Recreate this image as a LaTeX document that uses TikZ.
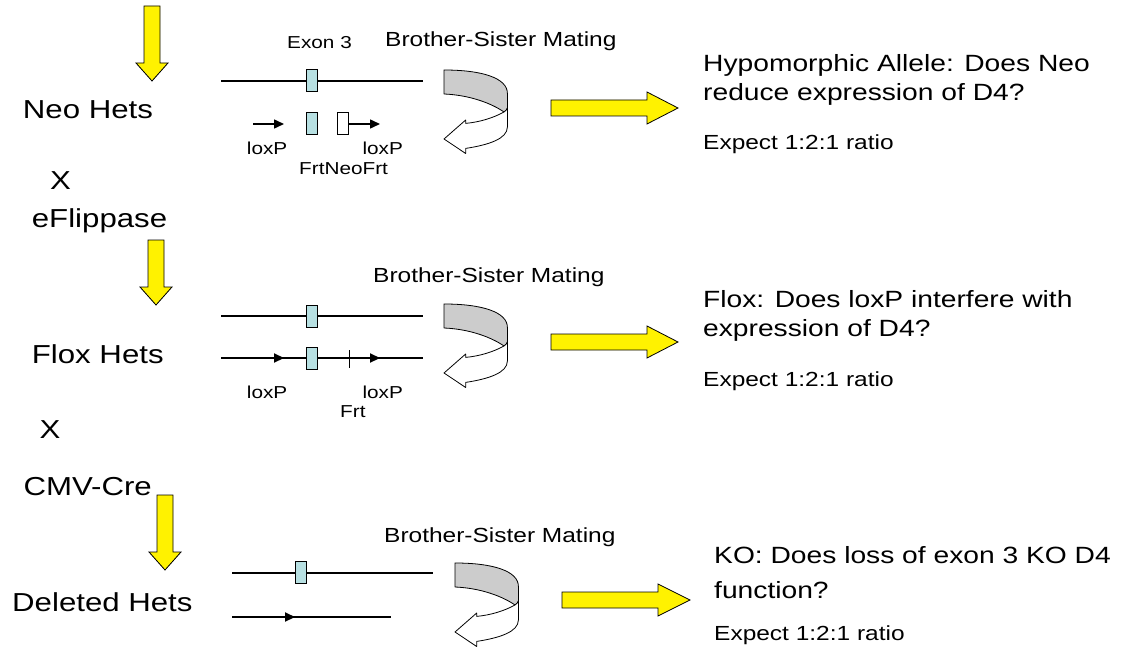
\documentclass[tikz,border=0pt]{standalone}
\usepackage{fontspec}
\setmainfont{Liberation Sans}[FakeStretch=1.2]
\usetikzlibrary{arrows.meta}
\definecolor{exonblue}{RGB}{183,224,226}
\definecolor{foldgray}{RGB}{204,204,204}
\tikzset{
  big/.style={font=\fontsize{26}{30}\selectfont, inner sep=0pt, anchor=base west},
  qtext/.style={font=\fontsize{23.5}{28}\selectfont, inner sep=0pt, anchor=base west},
  mid/.style={font=\fontsize{20.4}{24}\selectfont, inner sep=0pt, anchor=base west},
  small/.style={font=\fontsize{17.3}{20}\selectfont, inner sep=0pt, anchor=base west},
  gene/.style={line width=1.3pt},
  exon/.style={draw, line width=1pt, fill=exonblue, minimum width=11pt, minimum height=22pt, inner sep=0pt},
  neobox/.style={exon, fill=white},
  lox/.style={-{Triangle[length=10pt,width=9pt]}, line width=#1},
  lox/.default=1.5pt,
  yarrow/.style={draw=black, fill=yellow, line width=0.8pt, line join=miter},
  pics/downarr/.style={code={
    \draw[yarrow] (-8,0) -- (8,0) -- (8,#1-18) -- (16,#1-18) -- (0,#1) -- (-16,#1-18) -- (-8,#1-18) -- cycle;}},
  pics/rightarr/.style={code={
    \draw[yarrow] (0,-8) -- (96,-8) -- (96,-16) -- (#1,0) -- (96,16) -- (96,8) -- (0,8) -- cycle;}},
  pics/uturn/.style={code={
    \draw[fill=foldgray, line width=0.8pt, line join=round] (0,0) .. controls (38,0) and (63.4,8) .. (63.4,23.4) -- (63.4,38)
       .. controls (62.8,39.5) and (61.8,41) .. (60,42) .. controls (47,33) and (25,25) .. (0,24) -- cycle;
    \draw[fill=white, line width=0.8pt, line join=round] (63.4,38) .. controls (62.8,39.5) and (61.8,41) .. (60,42)
       .. controls (49,48) and (36,52) .. (21.7,53.4) -- (21.7,50) -- (0,69) -- (21.7,83.5) -- (21.7,78.4)
       .. controls (44,75) and (63.4,69) .. (63.4,57) -- cycle;}},
}
\begin{document}
\begin{tikzpicture}[x=1pt,y=-1pt]
\path[use as bounding box, fill=white] (0,0) rectangle (1124,647);

% left column
\pic at (152,6) {downarr=75};
\pic at (156,240) {downarr=65};
\pic at (165,495) {downarr=75};
\node[big] (neohets) at (22.7,119) {Neo Hets};
\node[big] (x1) at (50,190) {X};
\node[big] (eflip) at (31.7,228) {eFlippase};
\node[big] (floxhets) at (31.7,363) {Flox Hets};
\node[big] (x2) at (39.3,438) {X};
\node[big] (cmv) at (23.3,495) {CMV-Cre};
\node[big] (delhets) at (12,611) {Deleted Hets};

% row 1 gene
\node[small] (exon3) at (287,49) {Exon 3};
\draw[gene] (221,81) -- (423,81);
\node[exon] (e1a) at (311.5,81) {};
\node[exon] (e1b) at (311.5,124) {};
\node[neobox] (neo1) at (343,124) {};
\coordinate (l1s) at (253,124);
\coordinate (l1e) at (284,124);
\coordinate (l2e) at (380,124);
\draw[lox] (l1s) -- (l1e);
\draw[lox] (neo1.east) -- (l2e);
\node[small] (lox1a) at (246.7,155) {loxP};
\node[small] (lox1b) at (362.3,155) {loxP};
\node[small] (fnf) at (299,175) {FrtNeoFrt};
\node[mid] (bsm1) at (385,47) {Brother-Sister Mating};
\pic at (444,70) {uturn};
\pic at (551,108) {rightarr=127};
\node[qtext] (q1a) at (703,72) {Hypomorphic Allele: Does Neo};
\node[qtext] (q1b) at (703,101) {reduce expression of D4?};
\node[mid] (r1) at (703,150) {Expect 1:2:1 ratio};

% row 2 gene
\node[mid] (bsm2) at (373,282) {Brother-Sister Mating};
\draw[gene] (221,316) -- (423,316);
\node[exon] (e2a) at (311.7,316) {};
\draw[gene] (221,358) -- (423,358);
\draw[lox=2.2pt] (253,358) -- (284,358);
\draw[lox=2.2pt] (349,358) -- (380,358);
\node[exon] (e2b) at (311.7,358) {};
\draw[line width=1pt] (349,350) -- (349,368);
\node[small] (lox2a) at (246.7,398) {loxP};
\node[small] (lox2b) at (362.3,398) {loxP};
\node[small] (frt2) at (340,417) {Frt};
\pic at (444,304) {uturn};
\pic at (551,342) {rightarr=127};
\node[qtext] (q2a) at (703,307) {Flox: Does loxP interfere with};
\node[qtext] (q2b) at (703,336) {expression of D4?};
\node[mid] (r2) at (703,386) {Expect 1:2:1 ratio};

% row 3 gene
\node[mid] (bsm3) at (384,542) {Brother-Sister Mating};
\draw[gene] (232,573) -- (433,573);
\node[exon] (e3a) at (301.2,572) {};
\draw[gene] (232,617) -- (391,617);
\draw[lox=2.2pt] (264,617) -- (295,617);
\pic at (455,563) {uturn};
\pic at (562,600) {rightarr=128};
\node[qtext] (q3a) at (714,563) {KO: Does loss of exon 3 KO D4};
\node[qtext] (q3b) at (714,598) {function?};
\node[mid] (r3) at (714,640) {Expect 1:2:1 ratio};
\end{tikzpicture}
\end{document}
